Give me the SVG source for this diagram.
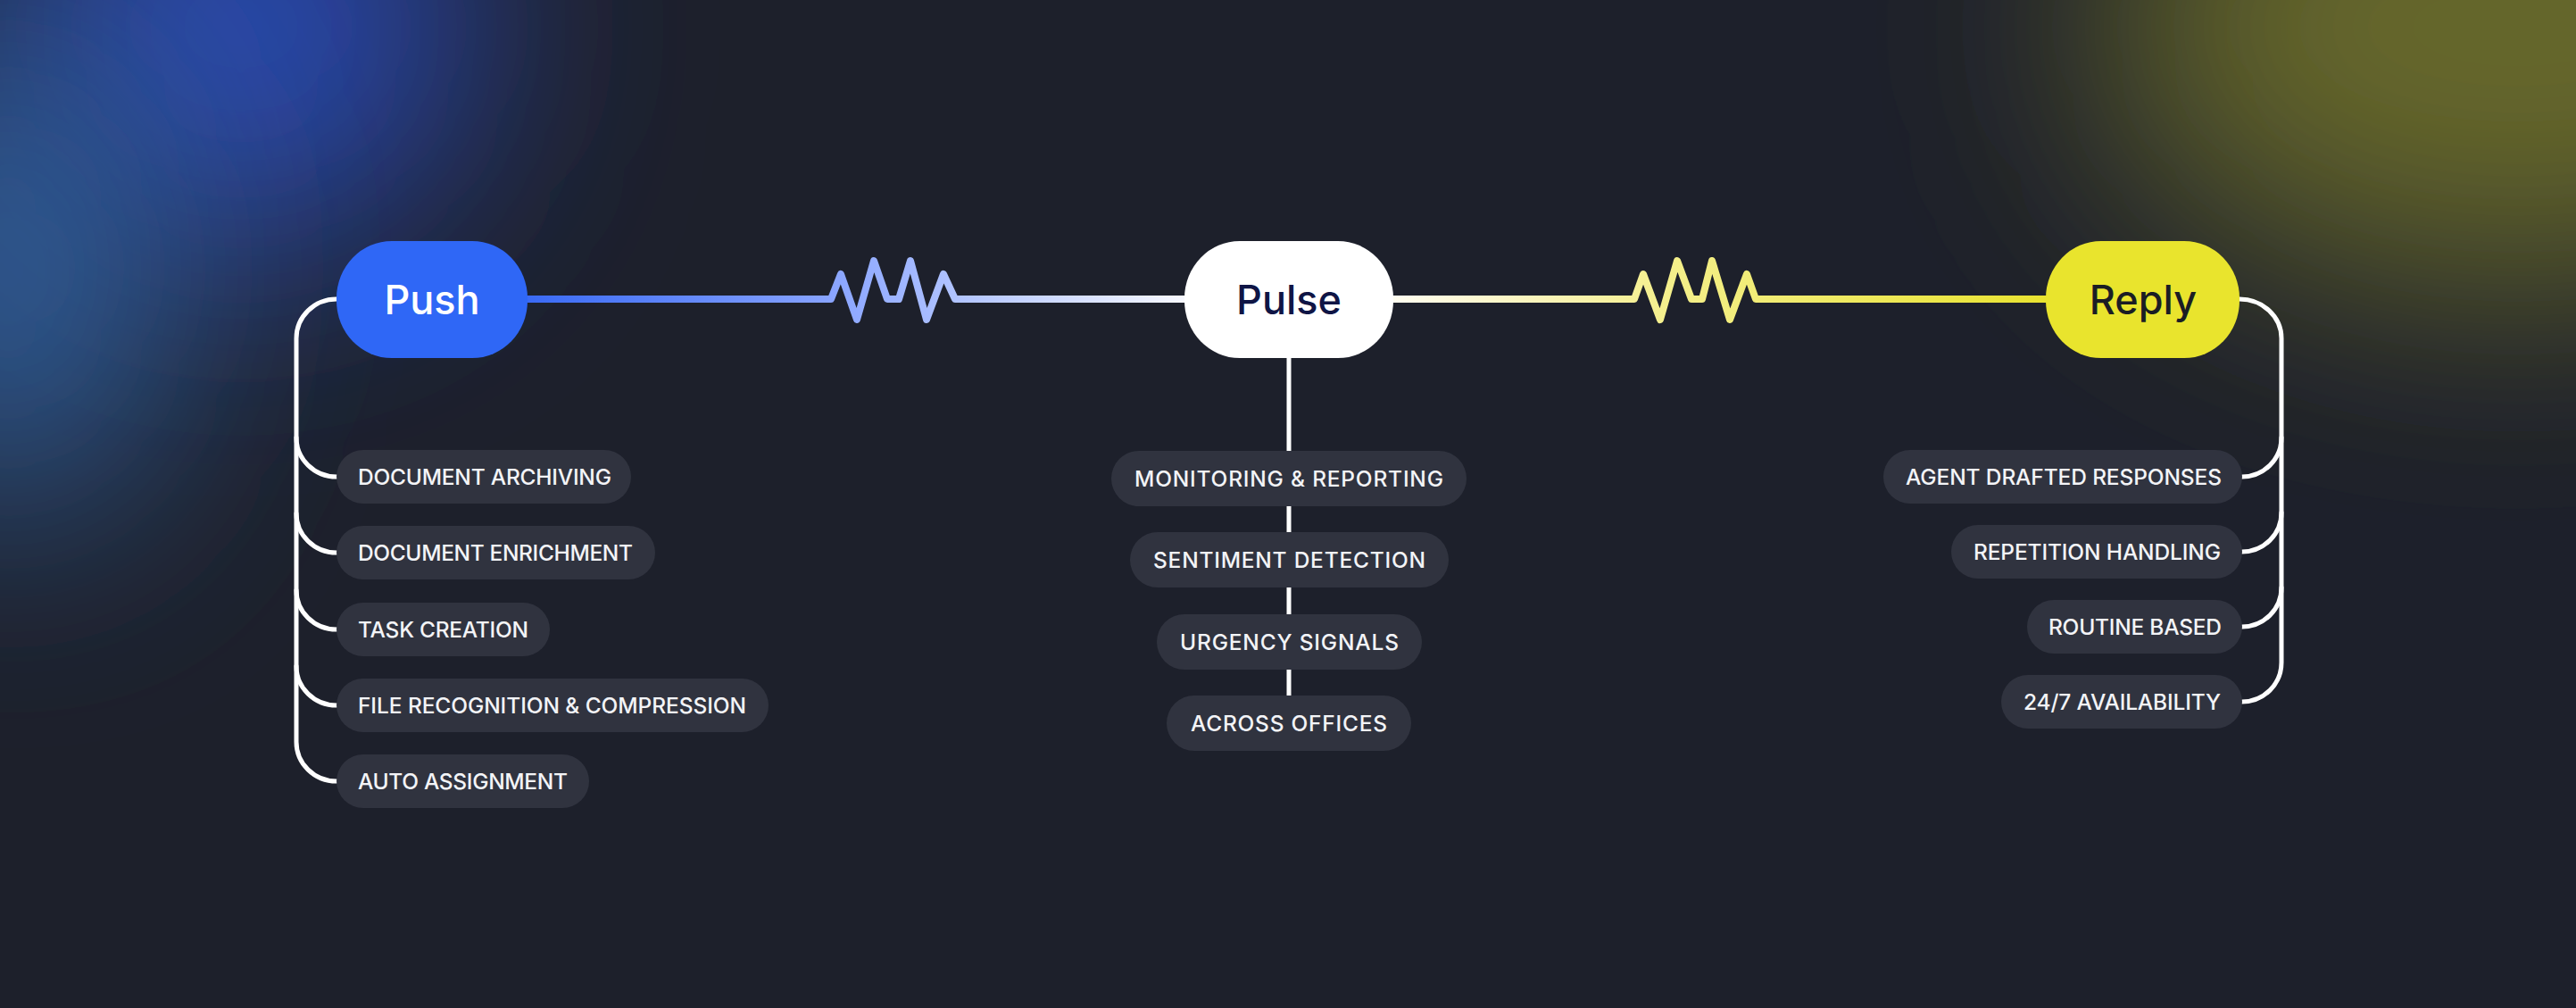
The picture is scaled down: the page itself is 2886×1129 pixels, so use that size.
<svg xmlns="http://www.w3.org/2000/svg" width="2886" height="1129" viewBox="0 0 2886 1129">
<style>
.node-label{font-family:Inter,"Noto Sans","Liberation Sans",sans-serif;font-size:45px;font-weight:500;text-anchor:middle}
.pill{fill:#30333f}
.pill-text{font-family:Inter,"Noto Sans","Liberation Sans",sans-serif;font-size:24.5px;font-weight:500;fill:#f3f4f7}
.bracket{fill:none;stroke:#ffffff;stroke-width:5;stroke-linecap:round}
.main{fill:none;stroke-width:8;stroke-linejoin:round;stroke-linecap:round}
</style>
<defs>
<filter id="glow" x="-1.5" y="-1.5" width="4" height="4"><feGaussianBlur stdDeviation="130"/></filter>
<linearGradient id="gLeft" gradientUnits="userSpaceOnUse" x1="591" y1="0" x2="1327" y2="0">
<stop offset="0" stop-color="#3a6af5"/>
<stop offset="0.45" stop-color="#86a2ff"/>
<stop offset="0.75" stop-color="#c5d3ff"/>
<stop offset="1" stop-color="#f7f8ff"/>
</linearGradient>
<linearGradient id="gRight" gradientUnits="userSpaceOnUse" x1="1561" y1="0" x2="2292" y2="0">
<stop offset="0" stop-color="#fffdf0"/>
<stop offset="0.2" stop-color="#fbf5c0"/>
<stop offset="0.42" stop-color="#f4ef8c"/>
<stop offset="1" stop-color="#e9e330"/>
</linearGradient>
</defs>
<rect width="2886" height="1129" fill="#1d202b"/>
<g id="background-glow">
<ellipse cx="270" cy="30" rx="260" ry="250" fill="#2a4ab0" filter="url(#glow)"/>
<ellipse cx="10" cy="300" rx="170" ry="280" fill="#3062a0" filter="url(#glow)"/>
<ellipse cx="2820" cy="30" rx="470" ry="290" fill="#66682c" filter="url(#glow)"/>
</g>
<g id="connectors">
<path class="main" stroke="url(#gLeft)" d="M591 335 H931 L942 307 L960 358 L979 292 L994 335 H1007 L1020 292 L1038 358 L1057 307 L1070 335 H1327"/>
<path class="main" stroke="url(#gRight)" d="M1561 335 H1831 L1841 307 L1860 358 L1879 292 L1895 335 H1907 L1918 292 L1938 358 L1957 307 L1967 335 H2292"/>
<path class="bracket" d="M377 335 A45 44 0 0 0 332 379 V831 A45 44 0 0 0 377 875"/>
<path class="bracket" d="M332 490 A45 44 0 0 0 377 534"/>
<path class="bracket" d="M332 575 A45 44 0 0 0 377 619"/>
<path class="bracket" d="M332 661 A45 44 0 0 0 377 705"/>
<path class="bracket" d="M332 746 A45 44 0 0 0 377 790"/>
<path class="bracket" d="M1444 400 V810"/>
<path class="bracket" d="M2509 335 A47 44 0 0 1 2556 379 V742 A44 44 0 0 1 2512 786"/>
<path class="bracket" d="M2556 490 A44 44 0 0 1 2512 534"/>
<path class="bracket" d="M2556 574 A44 44 0 0 1 2512 618"/>
<path class="bracket" d="M2556 658 A44 44 0 0 1 2512 702"/>
</g>
<g id="push">
<rect x="377" y="270" width="214" height="131" rx="62" ry="64" fill="#2f67f6"/>
<text class="node-label" x="484" y="352" fill="#ffffff">Push</text>
</g>
<g id="pulse">
<rect x="1327" y="270" width="234" height="131" rx="62" ry="64" fill="#ffffff"/>
<text class="node-label" x="1444" y="352" fill="#0f1545">Pulse</text>
</g>
<g id="reply">
<rect x="2292" y="270" width="217" height="131" rx="62" ry="64" fill="#e9e42d"/>
<text class="node-label" x="2401" y="352" fill="#1b1d24">Reply</text>
</g>
<g id="push-document-archiving">
<rect class="pill" x="377" y="504" width="330" height="60" rx="30"/>
<text class="pill-text" x="401" y="543" textLength="284" lengthAdjust="spacing">DOCUMENT ARCHIVING</text>
</g>
<g id="push-document-enrichment">
<rect class="pill" x="377" y="589" width="357" height="60" rx="30"/>
<text class="pill-text" x="401" y="628" textLength="308" lengthAdjust="spacing">DOCUMENT ENRICHMENT</text>
</g>
<g id="push-task-creation">
<rect class="pill" x="377" y="675" width="239" height="60" rx="30"/>
<text class="pill-text" x="401" y="714" textLength="191" lengthAdjust="spacing">TASK CREATION</text>
</g>
<g id="push-file-recognition">
<rect class="pill" x="377" y="760" width="484" height="60" rx="30"/>
<text class="pill-text" x="401" y="799" textLength="435" lengthAdjust="spacing">FILE RECOGNITION &amp; COMPRESSION</text>
</g>
<g id="push-auto-assignment">
<rect class="pill" x="377" y="845" width="283" height="60" rx="30"/>
<text class="pill-text" x="401" y="884" textLength="235" lengthAdjust="spacing">AUTO ASSIGNMENT</text>
</g>
<g id="pulse-monitoring">
<rect class="pill" x="1245" y="505" width="398" height="62" rx="31"/>
<text class="pill-text" x="1271" y="545" textLength="346" lengthAdjust="spacing">MONITORING &amp; REPORTING</text>
</g>
<g id="pulse-sentiment">
<rect class="pill" x="1266" y="596" width="357" height="62" rx="31"/>
<text class="pill-text" x="1292" y="636" textLength="305" lengthAdjust="spacing">SENTIMENT DETECTION</text>
</g>
<g id="pulse-urgency">
<rect class="pill" x="1296" y="688" width="297" height="62" rx="31"/>
<text class="pill-text" x="1322" y="728" textLength="245" lengthAdjust="spacing">URGENCY SIGNALS</text>
</g>
<g id="pulse-across-offices">
<rect class="pill" x="1307" y="779" width="274" height="62" rx="31"/>
<text class="pill-text" x="1334" y="819" textLength="220" lengthAdjust="spacing">ACROSS OFFICES</text>
</g>
<g id="reply-agent-drafted">
<rect class="pill" x="2110" y="504" width="402" height="60" rx="30"/>
<text class="pill-text" x="2135" y="543" textLength="354" lengthAdjust="spacing">AGENT DRAFTED RESPONSES</text>
</g>
<g id="reply-repetition">
<rect class="pill" x="2186" y="588" width="326" height="60" rx="30"/>
<text class="pill-text" x="2211" y="627" textLength="277" lengthAdjust="spacing">REPETITION HANDLING</text>
</g>
<g id="reply-routine">
<rect class="pill" x="2271" y="672" width="241" height="60" rx="30"/>
<text class="pill-text" x="2295" y="711" textLength="194" lengthAdjust="spacing">ROUTINE BASED</text>
</g>
<g id="reply-availability">
<rect class="pill" x="2242" y="756" width="270" height="60" rx="30"/>
<text class="pill-text" x="2267" y="795" textLength="221" lengthAdjust="spacing">24/7 AVAILABILITY</text>
</g>
</svg>
